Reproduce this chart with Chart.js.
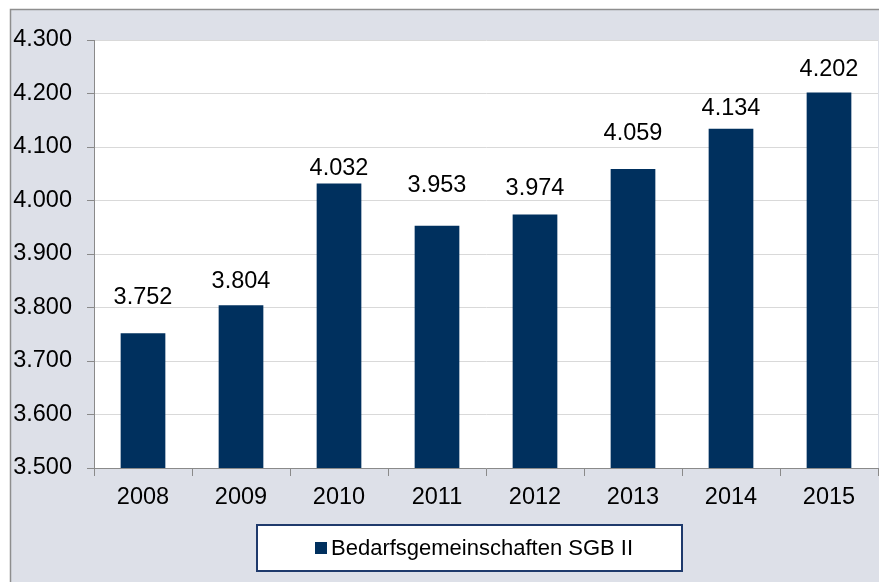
<!DOCTYPE html>
<html>
<head>
<meta charset="utf-8">
<script src="https://cdn.jsdelivr.net/npm/chart.js@4"></script>
<style>
  html, body { margin: 0; padding: 0; background: #ffffff; overflow: hidden; }
  #wrap { width: 879px; height: 582px; position: relative; }
</style>
</head>
<body>
<div id="wrap"><canvas id="c" width="879" height="582"></canvas></div>
<script>
const categories = ["2008", "2009", "2010", "2011", "2012", "2013", "2014", "2015"];
const seriesName = "Bedarfsgemeinschaften SGB II";
const values = [3752, 3804, 4032, 3953, 3974, 4059, 4134, 4202];
const yMin = 3500;
const yMax = 4300;
const yStep = 100;

const BAR = "#00305e";
const FONT = "'Liberation Sans', Arial, Helvetica, sans-serif";

function fmtDE(v) {
  return String(Math.round(v)).replace(/\B(?=(\d{3})+(?!\d))/g, ".");
}

const framePlugin = {
  id: "frame",
  beforeDraw(chart) {
    const ctx = chart.ctx;
    const W = chart.width, H = chart.height;
    ctx.save();
    ctx.fillStyle = "#ffffff";
    ctx.fillRect(0, 0, W, H);
    ctx.fillStyle = "#dde0e8";
    ctx.fillRect(10, 9, W - 10, H - 9);
    ctx.strokeStyle = "#8e8e8e";
    ctx.lineWidth = 1.5;
    ctx.beginPath();
    ctx.moveTo(10.5, H);
    ctx.lineTo(10.5, 9.5);
    ctx.lineTo(W, 9.5);
    ctx.stroke();
    const a = chart.chartArea;
    ctx.fillStyle = "#ffffff";
    ctx.fillRect(a.left, a.top, a.right - a.left, a.bottom - a.top);
    ctx.restore();
  }
};

const labelPlugin = {
  id: "valueLabels",
  afterDatasetsDraw(chart, args, opts) {
    const ctx = chart.ctx;
    const meta = chart.getDatasetMeta(0);
    const data = chart.data.datasets[0].data;
    ctx.save();
    ctx.font = opts.font;
    ctx.fillStyle = "#000000";
    ctx.textAlign = "center";
    ctx.textBaseline = "alphabetic";
    meta.data.forEach((bar, i) => {
      const off = opts.offsets[i];
      ctx.fillText(fmtDE(data[i]), bar.x, bar.y - off);
    });
    ctx.restore();
  }
};

const legendBoxPlugin = {
  id: "legendBox",
  afterDraw(chart, args, opts) {
    const ctx = chart.ctx;
    const b = opts.box;
    ctx.save();
    ctx.fillStyle = "#ffffff";
    ctx.fillRect(b.x, b.y, b.w, b.h);
    ctx.strokeStyle = "#1f3a6c";
    ctx.lineWidth = 2;
    ctx.strokeRect(b.x, b.y, b.w, b.h);
    const ds = chart.data.datasets[0];
    ctx.fillStyle = ds.backgroundColor;
    ctx.fillRect(opts.marker.x, opts.marker.y, opts.marker.s, opts.marker.s);
    ctx.fillStyle = "#000000";
    ctx.font = opts.font;
    ctx.textAlign = "left";
    ctx.textBaseline = "middle";
    ctx.fillText(ds.label, opts.textX, opts.textY);
    ctx.restore();
  }
};

new Chart(document.getElementById("c"), {
  type: "bar",
  data: {
    labels: categories,
    datasets: [{
      label: seriesName,
      data: values,
      backgroundColor: BAR,
      borderWidth: 0,
      barPercentage: 0.456,
      categoryPercentage: 1.0
    }]
  },
  options: {
    responsive: false,
    animation: false,
    devicePixelRatio: 1,
    layout: { padding: { top: 40, left: 0, right: 1, bottom: 0 } },
    plugins: {
      legend: { display: false },
      tooltip: { enabled: false },
      valueLabels: {
        font: "23.5px " + FONT,
        offsets: [29, 17, 8, 34, 19, 29, 14, 16]
      },
      legendBox: {
        box: { x: 257, y: 525, w: 425, h: 46 },
        marker: { x: 315, y: 542, s: 12 },
        textX: 331,
        textY: 549,
        font: "22px " + FONT
      }
    },
    scales: {
      x: {
        offset: true,
        afterFit(scale) { scale.height = 114; },
        grid: {
          offset: true,
          drawOnChartArea: false,
          drawTicks: true,
          tickLength: 8,
          tickColor: "#8a8a8a",
          color: "#8a8a8a"
        },
        border: { display: true, color: "#8a8a8a", width: 1 },
        ticks: {
          color: "#000000",
          padding: 7,
          font: { family: FONT, size: 23.5 },
          maxRotation: 0,
          autoSkip: false
        }
      },
      y: {
        min: yMin,
        max: yMax,
        afterFit(scale) { scale.width = 94; },
        grid: {
          color: "#d9d9d9",
          lineWidth: 1,
          drawTicks: true,
          tickLength: 7,
          tickColor: "#8a8a8a"
        },
        border: { display: true, color: "#8a8a8a", width: 1 },
        ticks: {
          stepSize: yStep,
          color: "#000000",
          padding: 15,
          font: { family: FONT, size: 23.5 },
          callback: (v) => fmtDE(v)
        }
      }
    }
  },
  plugins: [framePlugin, labelPlugin, legendBoxPlugin]
});
</script>
</body>
</html>
